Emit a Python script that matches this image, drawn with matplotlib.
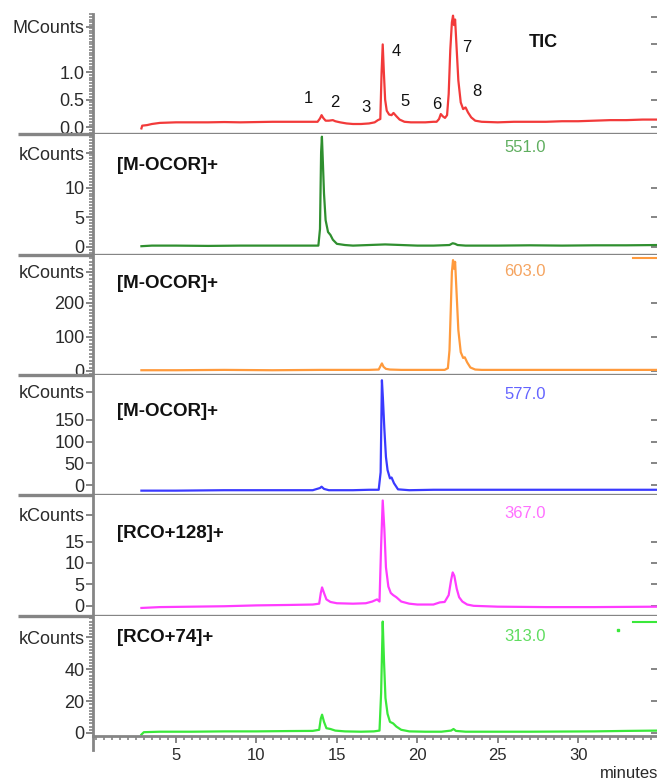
import matplotlib
matplotlib.use('Agg')
import matplotlib.pyplot as plt
from matplotlib.ticker import MultipleLocator, NullLocator

plt.rcParams['font.family'] = ['Liberation Sans', 'DejaVu Sans']

# TIC (MCounts)
tic_t = [2.85, 2.9, 3.2, 3.5, 4.0, 5.0, 6.0, 7.0, 8.0, 9.0, 10.0, 11.0, 12.0, 13.0, 13.8,
         13.95, 14.05, 14.15, 14.3, 14.5, 14.75, 14.9, 15.2, 15.6, 16.0, 16.5, 17.0, 17.35,
         17.55, 17.7, 17.78, 17.85, 17.92, 18.0, 18.1, 18.25, 18.4, 18.52, 18.7, 18.9, 19.2,
         19.6, 20.0, 20.5, 21.0, 21.2, 21.35, 21.46, 21.58, 21.72, 21.85, 21.95, 22.05, 22.15,
         22.22, 22.28, 22.35, 22.45, 22.55, 22.7, 22.85, 23.0, 23.15, 23.35, 23.6, 24.0, 25.0,
         26.0, 27.0, 28.0, 29.0, 30.0, 31.0, 32.0, 33.0, 34.0, 35.0]
tic_v = [-0.02, 0.03, 0.04, 0.06, 0.08, 0.09, 0.09, 0.09, 0.095, 0.09, 0.095, 0.1, 0.1, 0.1, 0.1,
         0.16, 0.22, 0.17, 0.12, 0.12, 0.13, 0.11, 0.09, 0.07, 0.06, 0.06, 0.07, 0.09,
         0.13, 0.15, 1.0, 1.5, 1.0, 0.5, 0.3, 0.23, 0.22, 0.26, 0.2, 0.14, 0.1,
         0.09, 0.09, 0.09, 0.1, 0.1, 0.15, 0.24, 0.2, 0.17, 0.22, 0.6, 1.4, 1.9,
         2.02, 1.85, 1.95, 1.4, 0.85, 0.45, 0.33, 0.36, 0.27, 0.18, 0.12, 0.1, 0.09,
         0.1, 0.1, 0.1, 0.11, 0.11, 0.12, 0.13, 0.13, 0.14, 0.14]

# m/z 551.0 (kCounts)
g551_t = [2.85, 3.5, 5, 7, 9, 11, 13, 13.85, 13.95, 14.02, 14.07, 14.12, 14.2, 14.3, 14.45,
          14.6, 14.75, 15.0, 15.5, 16, 17, 18, 19, 20, 21, 22, 22.2, 22.35, 22.5, 23, 25, 27,
          29, 31, 33, 35]
g551_v = [0.1, 0.2, 0.2, 0.15, 0.2, 0.2, 0.2, 0.2, 3, 16, 18.6, 15, 9, 4.5, 2.5,
          2, 1.2, 0.5, 0.3, 0.2, 0.3, 0.4, 0.3, 0.2, 0.2, 0.3, 0.6, 0.5, 0.3, 0.2, 0.2, 0.25,
          0.2, 0.25, 0.25, 0.3]

# m/z 603.0 (kCounts)
o603_t = [2.85, 5, 8, 11, 14, 17.0, 17.6, 17.72, 17.8, 17.9, 18.05, 18.3, 19, 20, 21, 21.7,
          21.9, 22.0, 22.08, 22.15, 22.22, 22.28, 22.35, 22.45, 22.55, 22.7, 22.85, 22.95,
          23.1, 23.3, 23.6, 24, 26, 28, 30, 32, 35]
o603_v = [2, 2, 3, 2, 3, 3, 4, 15, 22, 12, 6, 4, 3, 3, 3, 3,
          8, 60, 180, 290, 325, 300, 320, 220, 120, 55, 38, 40,
          25, 10, 4, 3, 3, 3, 3, 3, 3]
o603_tail_t = [33.4, 35.0]
o603_tail_v = [330, 330]

# m/z 577.0 (kCounts)
b577_t = [2.85, 5, 8, 11, 13.5, 13.95, 14.05, 14.2, 14.5, 16, 17.0, 17.6, 17.72, 17.8, 17.86,
          17.95, 18.05, 18.15, 18.3, 18.4, 18.55, 18.8, 19.5, 21, 23, 25, 27, 29, 31, 33, 35]
b577_v = [-12, -12, -11, -11, -11, -6, -3, -8, -11, -11, -10, -10, 30, 240, 200,
          130, 65, 35, 16, 18, 5, -9, -11, -10, -10, -10, -10, -10, -10, -10, -10]

# m/z 367.0 (kCounts)
m367_t = [2.85, 4, 6, 8, 10, 12, 13.5, 13.9, 14.0, 14.08, 14.2, 14.35, 14.6, 15, 16, 16.8, 17.2,
          17.5, 17.65, 17.75, 17.85, 17.95, 18.05, 18.2, 18.35, 18.5, 18.7, 19, 19.5, 20, 21,
          21.4, 21.7, 21.95, 22.1, 22.2, 22.3, 22.45, 22.6, 22.8, 23.1, 23.5, 25, 28, 31, 35]
m367_v = [-0.5, -0.3, -0.2, -0.1, 0.1, 0.2, 0.3, 0.5, 3, 4.3, 3, 1.5, 0.9, 0.6, 0.5, 0.6, 1.0,
          1.5, 1.0, 14, 24.6, 18, 9, 4.5, 3, 2.5, 2, 1, 0.5, 0.3, 0.3,
          0.8, 0.9, 2.5, 6, 7.8, 7, 4, 2, 1, 0.3, 0, -0.2, -0.3, -0.3, -0.2]

# m/z 313.0 (kCounts)
g313_t = [2.85, 3.0, 4, 6, 8, 10, 12, 13.5, 13.9, 14.0, 14.08, 14.2, 14.35, 14.6, 14.9, 15.5,
          16.5, 17.3, 17.65, 17.75, 17.85, 17.93, 18.02, 18.15, 18.3, 18.5, 18.7, 19, 19.5,
          20.5, 21.5, 22.1, 22.25, 22.4, 23, 25, 27, 29, 31, 33, 35]
g313_v = [-1, 0.5, 0.8, 0.8, 1, 1, 1.2, 1.3, 2, 9, 11.5, 7, 3, 2.5, 1.5, 1,
          0.8, 1, 1.5, 25, 70, 45, 22, 12, 7, 6, 4, 2, 1,
          0.8, 0.8, 1.5, 2.5, 1.3, 0.8, 0.8, 0.8, 0.9, 1, 1.3, 1.5]
g313_tail_t = [33.4, 35.0]
g313_tail_v = [70, 70]
g313_dot_t = [32.5]
g313_dot_v = [65]

peak_nums = ['1', '2', '3', '4', '5', '6', '7', '8']
peak_num_x = [13.2, 14.9, 16.8, 18.7, 19.25, 21.2, 23.1, 23.7]
peak_num_y = [0.53, 0.44, 0.36, 1.37, 0.47, 0.41, 1.44, 0.64]

panels = [
    dict(t=tic_t, v=tic_v, color='#f23a3a', ylim=(-0.127, 2.05), ticks=[0, 0.5, 1.0],
         labels=['0.0', '0.5', '1.0'], right=[0, 0.5, 1.0, 1.5, 2.0], minor=0.05,
         unit='MCounts', unit_y=1.82, name=None, mz=None),
    dict(t=g551_t, v=g551_v, color='#2f8f2f', ylim=(-1.33, 19.0), ticks=[0, 5, 10],
         labels=['0', '5', '10'], right=[0, 5, 10], minor=0.5,
         unit='kCounts', unit_y=15.8, name=('[M-OCOR]+', 0.745), mz=('551.0', 0.89, '#5fae5f')),
    dict(t=o603_t, v=o603_v, color='#ff9a3c', ylim=(-12, 341), ticks=[0, 100, 200],
         labels=['0', '100', '200'], right=[0, 100, 200], minor=10,
         unit='kCounts', unit_y=291, name=('[M-OCOR]+', 0.76), mz=('603.0', 0.86, '#f5a460')),
    dict(t=b577_t, v=b577_v, color='#3a3aff', ylim=(-22.7, 252), ticks=[0, 50, 100, 150],
         labels=['0', '50', '100', '150'], right=[0, 50, 100, 150], minor=None,
         unit='kCounts', unit_y=214, name=('[M-OCOR]+', 0.70), mz=('577.0', 0.84, '#6464ff')),
    dict(t=m367_t, v=m367_v, color='#ff3cff', ylim=(-2.3, 25.8), ticks=[0, 5, 10, 15],
         labels=['0', '5', '10', '15'], right=[0, 5, 10, 15], minor=None,
         unit='kCounts', unit_y=21.3, name=('[RCO+128]+', 0.68), mz=('367.0', 0.85, '#ff70ff')),
    dict(t=g313_t, v=g313_v, color='#3ae83a', ylim=(-1.9, 73.7), ticks=[0, 20, 40],
         labels=['0', '20', '40'], right=[0, 20, 40], minor=2,
         unit='kCounts', unit_y=60, name=('[RCO+74]+', 0.82), mz=('313.0', 0.83, '#60dd60')),
]

GRAY = '#858585'
TXT = '#2a2a2a'

fig = plt.figure(figsize=(6.57, 7.80), dpi=100)
axes = fig.subplots(6, 1, sharex=True,
                    gridspec_kw=dict(hspace=0, left=93 / 657, right=1.0,
                                     top=1 - 14 / 780, bottom=1 - 736 / 780))

for i, (ax, p) in enumerate(zip(axes, panels)):
    ax.plot(p['t'], p['v'], color=p['color'], lw=1.6, solid_joinstyle='round')
    ax.set_ylim(*p['ylim'])
    ax.set_xlim(-0.16, 34.9)

    for s in ['top', 'right']:
        ax.spines[s].set_visible(False)
    ax.spines['left'].set_color(GRAY)
    ax.spines['left'].set_linewidth(2.0)

    # unit name sits on its own tick near the top of each panel
    ax.set_yticks(p['ticks'] + [p['unit_y']])
    ax.set_yticklabels(p['labels'] + [p['unit']])
    if p['minor']:
        ax.yaxis.set_minor_locator(MultipleLocator(p['minor']))
    else:
        ax.yaxis.set_minor_locator(NullLocator())
    ax.tick_params(axis='y', which='major', direction='out', length=5, width=1.4,
                   color=GRAY, labelsize=13, labelcolor=TXT, pad=1)
    ax.tick_params(axis='y', which='minor', direction='out', length=3, width=1.2, color=GRAY)

    sec = ax.secondary_yaxis('right')
    sec.set_yticks(p['right'])
    sec.yaxis.set_minor_locator(NullLocator())
    sec.tick_params(direction='in', length=4, width=1.4, color=GRAY, labelright=False)
    sec.spines['right'].set_visible(False)

    if i < 5:
        ax.spines['bottom'].set_visible(False)
        ax.tick_params(axis='x', which='both', bottom=False, labelbottom=False)
        ax.plot([-0.133, 1.0], [0, 0], transform=ax.transAxes, color=GRAY, lw=2.4,
                clip_on=False, solid_capstyle='butt', zorder=5)
    else:
        ax.spines['bottom'].set_color(GRAY)
        ax.spines['bottom'].set_linewidth(2.0)
        ax.set_xticks([5, 10, 15, 20, 25, 30])
        ax.xaxis.set_minor_locator(MultipleLocator(0.5))
        ax.tick_params(axis='x', which='major', direction='out', length=5, width=1.4,
                       color=GRAY, labelsize=12, labelcolor=TXT, pad=4)
        ax.tick_params(axis='x', which='minor', direction='out', length=3, width=1.2,
                       color=GRAY)
        ax.plot([0, 0], [0, -0.12], transform=ax.transAxes, color=GRAY, lw=2.0,
                clip_on=False)

    if p['name']:
        ax.text(0.0426, p['name'][1], p['name'][0], transform=ax.transAxes,
                fontsize=13.5, fontweight='bold', color='#111111', ha='left', va='center')
    if p['mz']:
        ax.text(0.766, p['mz'][1], p['mz'][0], transform=ax.transAxes, fontsize=12,
                color=p['mz'][2], ha='center', va='center')

axes[0].text(0.798, 0.76, 'TIC', transform=axes[0].transAxes, fontsize=13,
             fontweight='bold', color='#111111', ha='center', va='center')
for lab, x, y in zip(peak_nums, peak_num_x, peak_num_y):
    axes[0].text(x, y, lab, fontsize=12, color='#111111', ha='center', va='center')

axes[2].plot(o603_tail_t, o603_tail_v, color='#ff9a3c', lw=1.5, clip_on=False)
axes[5].plot(g313_tail_t, g313_tail_v, color='#3ae83a', lw=1.5, clip_on=False)
axes[5].plot(g313_dot_t, g313_dot_v, 's', color='#3ae83a', ms=2, clip_on=False)

fig.text(600 / 657, 1 - 773 / 780, 'minutes', fontsize=12, color=TXT, ha='left', va='center')

fig.savefig('out.png', dpi=100)
